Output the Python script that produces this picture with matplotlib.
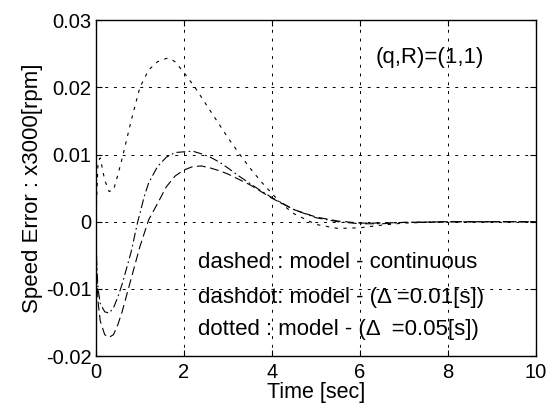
import matplotlib
matplotlib.use("Agg")
import matplotlib.pyplot as plt

plt.rcParams['font.family'] = ['Liberation Sans', 'DejaVu Sans']

# continuous model (dashed)
t_cont = [0, 0.02, 0.05, 0.1, 0.2, 0.3, 0.4, 0.5, 0.6, 0.8, 1.0, 1.2, 1.4, 1.6, 1.8,
          2.0, 2.2, 2.4, 2.6, 2.8, 3.0, 3.25, 3.5, 3.75, 4.0, 4.5, 5.0, 5.5, 6.0, 6.5,
          7, 8, 9, 10]
e_cont = [0, -0.008, -0.012, -0.0148, -0.0168, -0.0172, -0.0168, -0.0153, -0.0133,
          -0.0085, -0.0037, 0.0003, 0.0027, 0.0052, 0.0068, 0.0077, 0.0082, 0.0083,
          0.0080, 0.0076, 0.0071, 0.0063, 0.0055, 0.0045, 0.0035, 0.0018, 0.0007,
          0.0001, -0.0002, -0.0002, -0.0001, 0, 0, 0]

# discrete model, delta = 0.01 s (dashdot)
t_d01 = [0, 0.02, 0.05, 0.1, 0.2, 0.3, 0.4, 0.5, 0.6, 0.8, 0.95, 1.0, 1.1, 1.2, 1.4,
         1.6, 1.8, 2.0, 2.2, 2.4, 2.6, 2.8, 3.0, 3.25, 3.5, 3.75, 4.0, 4.5, 5.0, 5.5,
         6.0, 6.5, 7, 8, 9, 10]
e_d01 = [0, -0.007, -0.010, -0.0122, -0.0134, -0.0136, -0.0128, -0.0112, -0.0092,
         -0.0045, 0, 0.0012, 0.0038, 0.0058, 0.0082, 0.0096, 0.0103, 0.0104, 0.0105,
         0.0101, 0.0096, 0.0089, 0.0080, 0.0068, 0.0057, 0.0046, 0.0036, 0.0018,
         0.0006, 0.0, -0.0003, -0.0003, -0.0001, 0, 0, 0]

# discrete model, delta = 0.05 s (dotted)
t_d05 = [0, 0.02, 0.05, 0.1, 0.15, 0.2, 0.3, 0.4, 0.5, 0.6, 0.8, 1.0, 1.2, 1.4, 1.6,
         1.7, 1.8, 2.0, 2.25, 2.4, 2.6, 2.8, 3.0, 3.25, 3.5, 3.75, 4.0, 4.25, 4.5,
         5.0, 5.5, 6.0, 6.5, 7, 8, 10]
e_d05 = [0, 0.004, 0.009, 0.0095, 0.0078, 0.0062, 0.0045, 0.0047, 0.007, 0.0095,
         0.015, 0.020, 0.0226, 0.0238, 0.0243, 0.0242, 0.0238, 0.0222, 0.020, 0.0185,
         0.0165, 0.0145, 0.0125, 0.0102, 0.008, 0.006, 0.0042, 0.0025, 0.0012,
         -0.0004, -0.001, -0.0009, -0.0005, -0.0002, 0, 0]

xticks = [0, 2, 4, 6, 8, 10]
yticks = [-0.02, -0.01, 0, 0.01, 0.02, 0.03]
ytick_labels = ["-0.02", "-0.01", "0", "0.01", "0.02", "0.03"]

legend_lines = ["dashed : model - continuous",
                "dashdot: model - (\u0394 =0.01[s])",
                "dotted : model - (\u0394  =0.05[s])"]

fig = plt.figure(figsize=(5.48, 4.19), dpi=100)
ax = fig.add_axes([0.175, 0.150, 0.803, 0.802])

ax.plot(t_cont, e_cont, color="black", lw=0.8, linestyle=(0, (8, 4)))
ax.plot(t_d01, e_d01, color="black", lw=0.8, linestyle=(0, (8, 3, 1.5, 3)))
ax.plot(t_d05, e_d05, color="black", lw=0.8, linestyle=(0, (3, 5)))

ax.set_xlim(0, 10)
ax.set_ylim(-0.02, 0.03)
ax.set_xticks(xticks)
ax.set_yticks(yticks)
ax.set_yticklabels(ytick_labels)
ax.tick_params(direction="in", top=True, right=True, labelsize=14.5, length=4)
ax.tick_params(axis="x", pad=5)
ax.tick_params(axis="y", pad=3)
ax.grid(True, color="black", linestyle=(0, (3, 6)), linewidth=0.7)
for s in ax.spines.values():
    s.set_linewidth(1.0)

ax.set_xlabel("Time [sec]", fontsize=15.5, labelpad=0)
ax.set_ylabel("Speed Error : x3000[rpm]", fontsize=16, labelpad=2)

ax.text(6.36, 0.0245, "(q,R)=(1,1)", fontsize=16, va="center")
for s, y in zip(legend_lines, [-0.0061, -0.0112, -0.0161]):
    ax.text(2.32, y, s, fontsize=16, va="center")

fig.savefig("out.png", dpi=100)
